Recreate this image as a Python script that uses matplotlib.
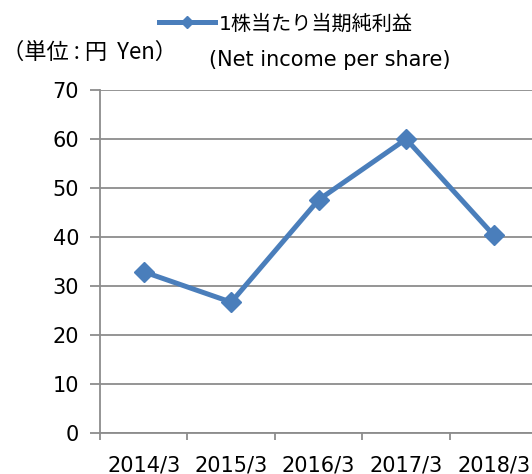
import matplotlib.pyplot as plt
from matplotlib.lines import Line2D

plt.rcParams['font.family'] = ['DejaVu Sans', 'Noto Sans CJK JP']

# data
periods = ['2014/3', '2015/3', '2016/3', '2017/3', '2018/3']
eps = [32.9, 26.7, 47.6, 60.0, 40.4]
yticks = [0, 10, 20, 30, 40, 50, 60, 70]

blue = '#4a7ebb'
grid_c = '#8c8c8c'

fig = plt.figure(figsize=(5.32, 4.74), dpi=100)
ax = fig.add_axes([0.188, 0.0865, 0.822, 0.7235])

x = range(len(periods))
ax.plot(x, eps, color=blue, lw=3.6, marker='D', ms=10, solid_joinstyle='miter')

ax.set_xlim(-0.5, len(periods) - 0.5)
ax.set_ylim(0, 70)
ax.set_yticks(yticks)
ax.yaxis.grid(True, color=grid_c, lw=1.3)
ax.set_axisbelow(True)

# category boundaries get tick marks, centers get labels
ax.set_xticks([i - 0.5 for i in range(len(periods) + 1)])
ax.set_xticklabels([])
ax.set_xticks(list(x), minor=True)
ax.set_xticklabels(periods, minor=True, fontsize=15)
ax.tick_params(axis='x', which='major', length=5, color=grid_c, width=1.3)
ax.tick_params(axis='x', which='minor', length=0, pad=16)
ax.tick_params(axis='y', length=7, color=grid_c, width=1.3, pad=8, labelsize=15)

for s in ['top', 'right']:
    ax.spines[s].set_visible(False)
for s in ['left', 'bottom']:
    ax.spines[s].set_color(grid_c)
    ax.spines[s].set_linewidth(1.3)

handle = Line2D([], [], color=blue, lw=3.6, marker='D', ms=6.5)
fig.legend([handle], ['1株当たり当期純利益'], loc='center left',
           bbox_to_anchor=(0.283, 0.95), frameon=False, fontsize=14.5,
           handlelength=2.8, handletextpad=0.2, borderaxespad=0)
fig.text(0.393, 0.873, '(Net income per share)', fontsize=15, va='center')
fig.text(0.003, 0.89, '（単位 : 円  Yen）', fontsize=16, va='center',
         family=['Noto Sans CJK JP', 'DejaVu Sans'])

fig.savefig('out.png', dpi=100)
